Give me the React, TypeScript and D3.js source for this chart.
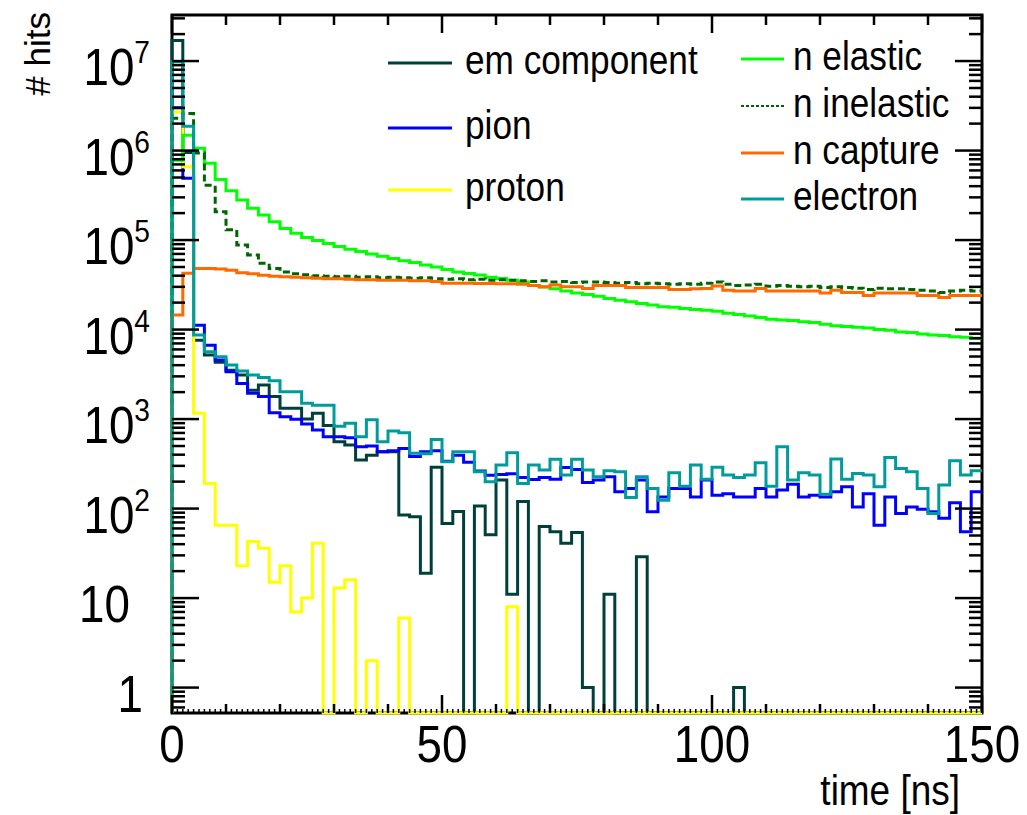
import React from 'react';
import * as d3 from 'd3';

// Histogram: 75 bins of 2 ns from 0 to 150 ns
const binWidthNs = 2;

const emComponent = [
  1.7e7, 9.5e5, 7600, 5200, 4300, 3500, 3100, 2100, 2400, 1790,
  1320, 1320, 1000, 1160, 850, 557, 514, 348, 395, 431,
  431, 85, 81, 19, 290, 68, 93, 0, 107, 51,
  208, 11, 120, 0, 63, 55, 41, 54, 1, 0,
  11, 0, 0, 29, 0, 0, 0, 0, 0, 0,
  0, 0, 1, 0, 0, 0, 0, 0, 0, 0,
  0, 0, 0, 0, 0, 0, 0, 0, 0, 0,
  0, 0, 0, 0, 0,
];

const pion = [
  3.0e6, 4.9e5, 11200, 6700, 4560, 3380, 2500, 1940, 1790, 1180,
  1060, 993, 879, 753, 634, 634, 620, 490, 500, 431,
  443, 470, 383, 431, 443, 337, 395, 329, 263, 235,
  240, 245, 223, 211, 223, 212, 287, 273, 195, 208,
  227, 154, 168, 208, 92, 135, 168, 168, 135, 208,
  141, 146, 135, 135, 168, 135, 161, 187, 135, 141,
  135, 154, 175, 104, 146, 65, 135, 88, 104, 98,
  92, 78, 116, 55, 154,
];

const proton = [
  2.7e6, 6.6e5, 1160, 190, 65, 65, 23, 43, 36, 15,
  23, 7, 10, 41, 0, 13, 16, 0, 2, 0,
  0, 6, 0, 0, 0, 0, 0, 0, 0, 0,
  0, 8, 0, 0, 0, 0, 0, 0, 0, 0,
  0, 0, 0, 0, 0, 0, 0, 0, 0, 0,
  0, 0, 0, 0, 0, 0, 0, 0, 0, 0,
  0, 0, 0, 0, 0, 0, 0, 0, 0, 0,
  0, 0, 0, 0, 0,
];

const nElastic = [
  7.8e5, 1.48e6, 1.06e6, 7.2e5, 4.76e5, 3.56e5, 2.8e5, 2.26e5, 1.9e5, 1.6e5,
  1.35e5, 1.19e5, 1.07e5, 9.87e4, 9.14e4, 8.5e4, 7.9e4, 7.44e4, 6.98e4, 6.58e4,
  6.21e4, 5.87e4, 5.6e4, 5.25e4, 5.0e4, 4.7e4, 4.4e4, 4.24e4, 4.06e4, 3.83e4,
  3.73e4, 3.55e4, 3.4e4, 3.1e4, 2.98e4, 2.86e4, 2.69e4, 2.56e4, 2.47e4, 2.35e4,
  2.22e4, 2.13e4, 2.04e4, 1.96e4, 1.88e4, 1.8e4, 1.77e4, 1.72e4, 1.68e4, 1.64e4,
  1.6e4, 1.52e4, 1.47e4, 1.42e4, 1.36e4, 1.3e4, 1.28e4, 1.26e4, 1.22e4, 1.2e4,
  1.15e4, 1.1e4, 1.08e4, 1.06e4, 1.04e4, 1.0e4, 9800, 9400, 9300, 8900,
  8700, 8600, 8300, 8200, 8000,
];

const nInelastic = [
  2.3e6, 2.6e6, 9.4e5, 4.1e5, 2.07e5, 1.3e5, 8.8e4, 6.8e4, 5.5e4, 4.8e4,
  4.4e4, 4.2e4, 4.1e4, 4.0e4, 3.95e4, 3.9e4, 3.95e4, 3.85e4, 3.9e4, 3.8e4,
  3.85e4, 3.8e4, 3.75e4, 3.8e4, 3.7e4, 3.65e4, 3.7e4, 3.6e4, 3.65e4, 3.55e4,
  3.6e4, 3.55e4, 3.5e4, 3.45e4, 3.5e4, 3.4e4, 3.45e4, 3.35e4, 3.4e4, 3.4e4,
  3.35e4, 3.3e4, 3.35e4, 3.25e4, 3.3e4, 3.25e4, 3.2e4, 3.25e4, 3.2e4, 3.3e4,
  3.4e4, 3.2e4, 3.1e4, 3.15e4, 3.2e4, 3.05e4, 3.1e4, 3.05e4, 3.0e4, 3.05e4,
  2.95e4, 3.0e4, 2.95e4, 2.9e4, 2.8e4, 2.9e4, 2.85e4, 2.85e4, 2.8e4, 2.75e4,
  2.7e4, 2.6e4, 2.7e4, 2.75e4, 2.7e4,
];

const nCapture = [
  1.45e4, 4.25e4, 4.8e4, 4.8e4, 4.75e4, 4.6e4, 4.3e4, 4.2e4, 4.05e4, 3.95e4,
  3.9e4, 3.85e4, 3.8e4, 3.75e4, 3.7e4, 3.7e4, 3.65e4, 3.6e4, 3.6e4, 3.55e4,
  3.55e4, 3.55e4, 3.5e4, 3.5e4, 3.45e4, 3.3e4, 3.3e4, 3.3e4, 3.28e4, 3.28e4,
  3.25e4, 3.25e4, 3.2e4, 3.1e4, 3.0e4, 3.15e4, 3.0e4, 3.0e4, 2.88e4, 3.1e4,
  3.1e4, 3.1e4, 2.95e4, 2.95e4, 2.95e4, 2.95e4, 2.8e4, 2.8e4, 2.85e4, 2.87e4,
  3.07e4, 2.75e4, 2.7e4, 2.7e4, 2.87e4, 2.7e4, 2.7e4, 2.7e4, 2.7e4, 2.7e4,
  2.57e4, 2.75e4, 2.6e4, 2.6e4, 2.4e4, 2.57e4, 2.57e4, 2.57e4, 2.57e4, 2.4e4,
  2.4e4, 2.28e4, 2.4e4, 2.4e4, 2.4e4,
];

const electron = [
  9.8e6, 1.87e6, 8700, 5640, 4970, 4010, 3440, 3100, 2920, 2680,
  2020, 2020, 1500, 1430, 1430, 830, 900, 634, 980, 557,
  735, 703, 414, 410, 593, 333, 431, 431, 258, 199,
  306, 420, 191, 306, 269, 355, 237, 355, 269, 227,
  265, 258, 133, 227, 168, 124, 251, 178, 306, 212,
  289, 237, 223, 237, 325, 178, 491, 208, 251, 237,
  145, 357, 212, 247, 237, 175, 373, 281, 258, 168,
  88, 183, 342, 237, 265,
];

const seriesNames = ['em component', 'pion', 'proton', 'n elastic', 'n inelastic', 'n capture', 'electron'];
const seriesColors = ['#00403a', '#0000ff', '#ffff00', '#00ff00', '#006400', '#ff6a00', '#009c9c'];
const seriesValues = [emComponent, pion, proton, nElastic, nInelastic, nCapture, electron];
const seriesDashed = [false, false, false, false, true, false, false];

const xDomain = [0, 150];
const yDomain = [0.52, 3.27e7];
const xMajorTicks = [0, 50, 100, 150];
const yDecadeExponents = [0, 1, 2, 3, 4, 5, 6, 7];
const xTitle = 'time [ns]';
const yTitle = '# hits';

const FONT = '"Liberation Sans", Arial, Helvetica, sans-serif';

export default function App() {
  React.useEffect(() => {
    document.body.style.margin = '0';
    document.body.style.overflow = 'hidden';
  }, []);

  const W = 1027;
  const H = 815;
  const left = 172, right = 982, top = 15, bottom = 713;

  const x = d3.scaleLinear().domain(xDomain).range([left, right]);
  const y = d3.scaleLog().domain(yDomain).range([bottom, top]).clamp(true);
  const yv = (v: number) => (v > 0 ? y(v) : bottom);

  const line = d3
    .line<[number, number]>()
    .x((d) => x(d[0]))
    .y((d) => yv(d[1]))
    .curve(d3.curveStepAfter);

  const histPath = (vals: number[]) => {
    const pts: [number, number][] = [[0, 0]];
    vals.forEach((v, i) => pts.push([i * binWidthNs, v]));
    pts.push([vals.length * binWidthNs, vals[vals.length - 1]]);
    return line(pts) || '';
  };

  // y ticks
  const yMajor = yDecadeExponents.map((e) => Math.pow(10, e));
  const yMinor: number[] = [];
  for (let k = -1; k <= 7; k++) {
    for (let m = 2; m <= 9; m++) {
      const v = m * Math.pow(10, k);
      if (v >= yDomain[0] && v <= yDomain[1]) yMinor.push(v);
    }
  }
  const xMedium = d3.range(0, 151, 10).filter((t) => t % 50 !== 0);
  const xSmall = d3.range(0, 151, 1).filter((t) => t % 10 !== 0);

  const tickStroke = 2.5;
  const sx = 0.88;

  const legendLeft = [0, 1, 2];
  const legendRight = [3, 4, 5, 6];
  const legendLeftY = [63, 128, 190];
  const legendRightY = [59, 106, 153, 199];

  return (
    <svg width={W} height={H} style={{ position: 'absolute', left: 0, top: 0, background: '#fff' }}>
      <defs>
        <clipPath id="plotClip">
          <rect x={left - 2} y={top} width={right - left + 2} height={bottom - top + 2} />
        </clipPath>
      </defs>
      <rect x={0} y={0} width={W} height={H} fill="#fff" />

      {/* frame */}
      <rect x={left} y={top} width={right - left} height={bottom - top} fill="none" stroke="#000" strokeWidth={3} />

      {/* histograms */}
      <g clipPath="url(#plotClip)">
        {seriesValues.map((vals, i) => (
          <path
            key={seriesNames[i]}
            d={histPath(vals)}
            fill="none"
            stroke={seriesColors[i]}
            strokeWidth={3}
            strokeDasharray={seriesDashed[i] ? '7,4' : undefined}
            strokeLinejoin="miter"
          />
        ))}
      </g>

      {/* ticks */}
      <g stroke="#000" strokeWidth={tickStroke}>
        {yMajor.map((v) => (
          <g key={'ym' + v}>
            <line x1={left} x2={left + 27} y1={y(v)} y2={y(v)} />
            <line x1={right} x2={right - 27} y1={y(v)} y2={y(v)} />
          </g>
        ))}
        {yMinor.map((v) => (
          <g key={'yn' + v}>
            <line x1={left} x2={left + 13} y1={y(v)} y2={y(v)} />
            <line x1={right} x2={right - 13} y1={y(v)} y2={y(v)} />
          </g>
        ))}
        {xMajorTicks.map((t) => (
          <g key={'xm' + t}>
            <line x1={x(t)} x2={x(t)} y1={bottom} y2={bottom - 18} />
            <line x1={x(t)} x2={x(t)} y1={top} y2={top + 18} />
          </g>
        ))}
        {xMedium.map((t) => (
          <g key={'xd' + t}>
            <line x1={x(t)} x2={x(t)} y1={bottom} y2={bottom - 9} />
            <line x1={x(t)} x2={x(t)} y1={top} y2={top + 10} />
          </g>
        ))}
        {xSmall.map((t) => (
          <line key={'xs' + t} x1={x(t)} x2={x(t)} y1={bottom} y2={bottom - 4} strokeWidth={1.5} />
        ))}
      </g>

      {/* y tick labels */}
      {yDecadeExponents.map((e) => {
        const ty = y(Math.pow(10, e));
        if (e >= 2) {
          return (
            <g key={'yl' + e} transform={`translate(150,${ty + 24}) scale(${sx},1)`}>
              <text textAnchor="end" fontFamily={FONT} fontSize={52} fill="#000">
                10<tspan fontSize={32} dy={-22}>{e}</tspan>
              </text>
            </g>
          );
        }
        return (
          <g key={'yl' + e} transform={`translate(${e === 1 ? 130 : 143},${ty + 24}) scale(${sx},1)`}>
            <text textAnchor="end" fontFamily={FONT} fontSize={52} fill="#000">
              {e === 1 ? '10' : '1'}
            </text>
          </g>
        );
      })}

      {/* x tick labels */}
      {xMajorTicks.map((t) => (
        <g key={'xl' + t} transform={`translate(${x(t)},762) scale(${sx},1)`}>
          <text textAnchor="middle" fontFamily={FONT} fontSize={52} fill="#000">
            {t}
          </text>
        </g>
      ))}

      {/* axis titles */}
      <g transform={`translate(960,805) scale(${sx},1)`}>
        <text textAnchor="end" fontFamily={FONT} fontSize={42} fill="#000">
          {xTitle}
        </text>
      </g>
      <g transform="translate(50,12) rotate(-90)">
        <text textAnchor="end" fontFamily={FONT} fontSize={35} fill="#000">
          {yTitle}
        </text>
      </g>

      {/* legend */}
      {legendLeft.map((si, k) => (
        <g key={'lg' + si}>
          <line x1={388} x2={452} y1={legendLeftY[k]} y2={legendLeftY[k]} stroke={seriesColors[si]} strokeWidth={3} />
          <g transform={`translate(465,${legendLeftY[k] + 11}) scale(${sx},1)`}>
            <text fontFamily={FONT} fontSize={40} fill="#000">
              {seriesNames[si]}
            </text>
          </g>
        </g>
      ))}
      {legendRight.map((si, k) => (
        <g key={'lg' + si}>
          <line
            x1={741}
            x2={784}
            y1={legendRightY[k]}
            y2={legendRightY[k]}
            stroke={seriesColors[si]}
            strokeWidth={seriesDashed[si] ? 2 : 3}
            strokeDasharray={seriesDashed[si] ? '3,2' : undefined}
          />
          <g transform={`translate(793,${legendRightY[k] + 11}) scale(${sx},1)`}>
            <text fontFamily={FONT} fontSize={40} fill="#000">
              {seriesNames[si]}
            </text>
          </g>
        </g>
      ))}
    </svg>
  );
}
